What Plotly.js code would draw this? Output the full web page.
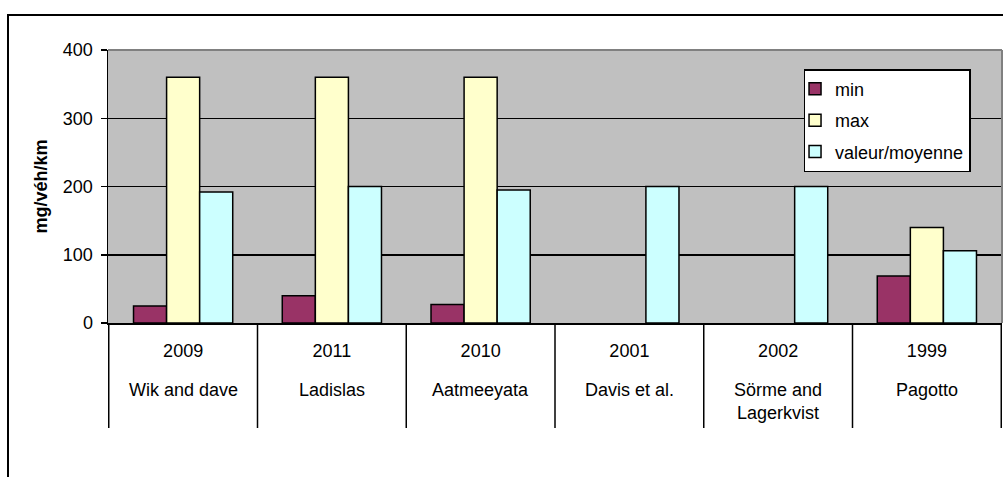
<!DOCTYPE html>
<html>
<head>
<meta charset="utf-8">
<script src="https://cdn.plot.ly/plotly-3.0.1.min.js"></script>
<style>
  html, body { margin: 0; padding: 0; background: #fff; }
  #wrap { position: relative; width: 1003px; height: 477px; overflow: hidden; background: #fff; }
  #frame { position: absolute; left: 7px; top: 14px; width: 1200px; height: 800px; border: 2px solid #000; box-sizing: border-box; }
  #chart { position: absolute; left: 0; top: 0; width: 1003px; height: 477px; }
</style>
</head>
<body>
<div id="wrap"><div id="frame"></div><div id="chart"></div></div>
<script>
const authors = ["Wik and dave", "Ladislas", "Aatmeeyata", "Davis et al.", "Sörme and Lagerkvist", "Pagotto"];
const years = ["2009", "2011", "2010", "2001", "2002", "1999"];
const minVals = [25, 40, 27, null, null, 69];
const maxVals = [360, 360, 360, null, null, 140];
const meanVals = [192, 200, 195, 200, 200, 106];
const seriesNames = ["min", "max", "valeur/moyenne"];
const yTicks = [0, 100, 200, 300, 400];

const FONT = "Liberation Sans, Arial, sans-serif";
const FS = 18;

function wrapLabel(s) {
  if (s.length <= 12) return s;
  const idx = s.lastIndexOf(" ", 12);
  return idx > 0 ? s.slice(0, idx) + "<br>" + s.slice(idx + 1) : s;
}

const colors = ["#993366", "#FFFFCC", "#CCFFFF"];
const vals = [minVals, maxVals, meanVals];
const traces = vals.map((v, i) => ({
  type: "bar",
  x: authors,
  y: v,
  name: seriesNames[i],
  marker: { color: colors[i], line: { color: "#000", width: 1.5 } },
  legendgroup: "g" + i,
  hoverinfo: "y"
}));

const shapes = [];
for (let i = 0; i <= authors.length; i++) {
  shapes.push({ type: "line", xref: "x", yref: "paper", x0: i - 0.5, x1: i - 0.5, y0: 0, y1: -105 / 273, line: { color: "#000", width: 1.5 } });
}
shapes.push({ type: "line", xref: "paper", yref: "paper", x0: 0, x1: 1, y0: 1, y1: 1, line: { color: "#808080", width: 2 } });
shapes.push({ type: "line", xref: "paper", yref: "paper", x0: 1, x1: 1, y0: 0, y1: 1, line: { color: "#808080", width: 2 } });

const annotations = authors.map(a => ({
  x: a, xref: "x", y: 0, yref: "paper", yanchor: "top", yshift: -55,
  text: wrapLabel(a), showarrow: false, font: { family: FONT, size: FS, color: "#000" }
}));

const layout = {
  width: 1003, height: 477,
  margin: { l: 108, r: 1, t: 50, b: 154 },
  paper_bgcolor: "rgba(0,0,0,0)",
  plot_bgcolor: "#C0C0C0",
  font: { family: FONT, size: FS, color: "#000" },
  bargap: 0.333, bargroupgap: 0,
  showlegend: true,
  legend: {
    x: 0.778, y: 0.93, xanchor: "left", yanchor: "top",
    bgcolor: "#fff", bordercolor: "#000", borderwidth: 1.5,
    font: { family: FONT, size: FS, color: "#000" },
    traceorder: "grouped", tracegroupgap: 5, indentation: -10
  },
  xaxis: {
    type: "category", categoryorder: "array", categoryarray: authors,
    tickmode: "array", tickvals: authors, ticktext: years,
    ticks: "", showline: true, linecolor: "#000", linewidth: 1.5,
    showgrid: false, zeroline: false, fixedrange: true,
    ticklabelstandoff: 11,
    tickfont: { family: FONT, size: FS, color: "#000" }
  },
  yaxis: {
    range: [0, 400], tickmode: "array", tickvals: yTicks,
    ticks: "outside", ticklen: 6, tickwidth: 1.5, tickcolor: "#000",
    showline: true, linecolor: "#000", linewidth: 1.5,
    showgrid: true, gridcolor: "#000", gridwidth: 1.5, zeroline: false,
    ticklabelstandoff: 4,
    tickfont: { family: FONT, size: FS, color: "#000" },
    title: { text: "<b>mg/véh/km</b>", font: { family: FONT, size: FS, color: "#000" }, standoff: 10 },
    fixedrange: true
  },
  shapes: shapes,
  annotations: annotations
};

Plotly.newPlot("chart", traces, layout, { displayModeBar: false, staticPlot: true });
</script>
</body>
</html>
